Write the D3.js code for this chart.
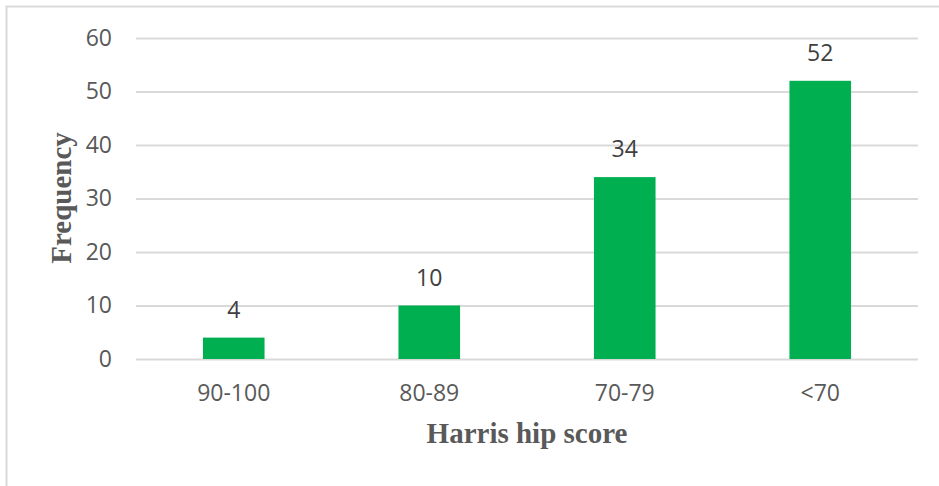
<!DOCTYPE html>
<html>
<head>
<meta charset="utf-8">
<script src="https://cdn.jsdelivr.net/npm/d3@7"></script>
<style>
  body { margin: 0; background: #fff; }
  svg { display: block; }
</style>
</head>
<body>
<svg width="939" height="486"></svg>
<script>
const categories = ['90-100', '80-89', '70-79', '<70'];
const frequency = [4, 10, 34, 52];
const yTicks = [0, 10, 20, 30, 40, 50, 60];

const svg = d3.select('svg'),
  margin = {top: 38, right: 21, bottom: 127, left: 136},
  width = +svg.attr('width') - margin.left - margin.right,
  height = +svg.attr('height') - margin.top - margin.bottom;

// outer chart border (only left/top visible in frame)
svg.append('rect')
  .attr('x', 6.5).attr('y', 6.5)
  .attr('width', 960).attr('height', 500)
  .attr('fill', 'none')
  .attr('stroke', '#d9d9d9')
  .attr('stroke-width', 2);

const x = d3.scaleBand().domain(categories).range([0, width]).paddingInner(0.685).paddingOuter(0.3425),
  y = d3.scaleLinear().domain([0, 60]).range([height, 0]);

const g = svg.append('g')
  .attr('transform', 'translate(' + margin.left + ',' + margin.top + ')');

// gridlines + y labels
const yAxis = g.append('g')
  .call(d3.axisLeft(y).tickValues(yTicks).tickSize(-width).tickPadding(24));
yAxis.select('.domain').remove();
yAxis.selectAll('line').attr('stroke', '#d9d9d9').attr('stroke-width', 2);
yAxis.selectAll('text')
  .attr('fill', '#595959')
  .style('font-family', '"Open Sans", sans-serif')
  .style('font-size', '23px');

// x labels
const xAxis = g.append('g')
  .attr('transform', 'translate(0,' + height + ')')
  .call(d3.axisBottom(x).tickSize(0).tickPadding(26));
xAxis.select('.domain').remove();
xAxis.selectAll('text')
  .attr('fill', '#595959')
  .style('font-family', '"Open Sans", sans-serif')
  .style('font-size', '23px');

const data = categories.map((c, i) => ({cat: c, val: frequency[i]}));

g.selectAll('.bar')
  .data(data)
  .enter().append('rect')
  .attr('class', 'bar')
  .attr('x', d => x(d.cat))
  .attr('y', d => y(d.val))
  .attr('width', x.bandwidth())
  .attr('height', d => height - y(d.val))
  .attr('fill', '#00b050');

g.selectAll('.label')
  .data(data)
  .enter().append('text')
  .attr('class', 'label')
  .attr('x', d => x(d.cat) + x.bandwidth() / 2)
  .attr('y', d => y(d.val) - 20)
  .attr('text-anchor', 'middle')
  .attr('fill', '#404040')
  .style('font-family', '"Open Sans", sans-serif')
  .style('font-size', '23px')
  .text(d => d.val);

// axis titles
svg.append('text')
  .attr('x', 527)
  .attr('y', 443)
  .attr('text-anchor', 'middle')
  .attr('fill', '#595959')
  .style('font-family', '"Liberation Serif", "Times New Roman", serif')
  .style('font-weight', 'bold')
  .style('font-size', '29px')
  .text('Harris hip score');

svg.append('text')
  .attr('transform', 'translate(71,198) rotate(-90)')
  .attr('text-anchor', 'middle')
  .attr('fill', '#595959')
  .style('font-family', '"Liberation Serif", "Times New Roman", serif')
  .style('font-weight', 'bold')
  .style('font-size', '29px')
  .text('Frequency');
</script>
</body>
</html>
